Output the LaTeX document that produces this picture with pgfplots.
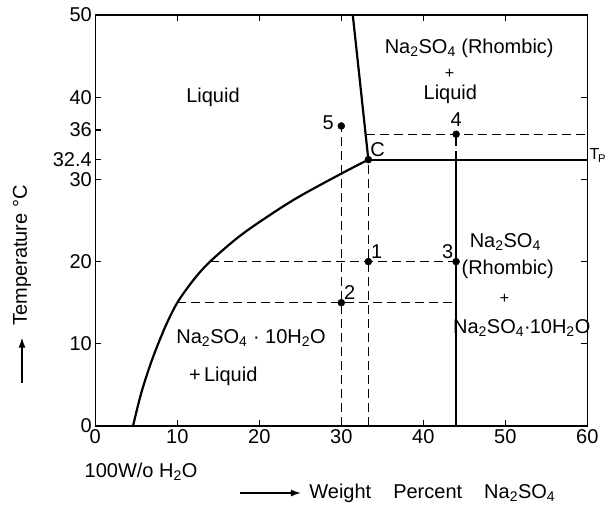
\documentclass[border=0pt]{standalone}
\usepackage{fontspec}
\setmainfont{Liberation Sans}
\usepackage{pgfplots}
\pgfplotsset{compat=1.18}
\usetikzlibrary{arrows.meta}

\newcommand{\nas}{Na\textsubscript{2}SO\textsubscript{4}}

\begin{document}
\begin{tikzpicture}[font=\fontsize{20}{24}\selectfont]
\begin{axis}[
  at={(0,0)}, anchor=south west,
  scale only axis, width=492pt, height=411pt,
  xmin=0, xmax=60, ymin=0, ymax=50,
  xtick={0,10,...,60},
  ytick={0,10,20,30,40,50},
  extra y ticks={32.4,36},
  extra y tick style={ytick pos=left},
  tick align=inside,
  major tick length=6pt,
  axis line style={line width=1.5pt},
  tick style={line width=1.2pt, black},
  tick label style={font=\fontsize{20}{24}\selectfont},
  /pgf/number format/assume math mode=true,
  clip=false,
]
% phase boundaries
\addplot[black, line width=2.2pt, smooth, tension=0.5] coordinates {
  (4.6,0) (5.6,4) (6.9,8) (8.5,12) (10,15) (12,17.8) (14,20)
  (18,23.4) (24,27.4) (30,30.7) (33.3,32.4)};
\addplot[black, line width=2.2pt] coordinates {(33.3,32.4) (31.4,50)};
\addplot[black, line width=2.2pt] coordinates {(33.3,32.4) (60,32.4)};
\addplot[black, line width=2.2pt] coordinates {(44,0) (44,32.4)};

% construction lines
\addplot[black, line width=1.2pt, dash pattern=on 9pt off 5pt] coordinates {(30,0) (30,36.5)};
\addplot[black, line width=1.2pt, dash pattern=on 9pt off 5pt] coordinates {(33.3,0) (33.3,32.4)};
\addplot[black, line width=1.2pt, dash pattern=on 9pt off 5pt] coordinates {(44,32.4) (44,35.5)};
\addplot[black, line width=1.2pt, dash pattern=on 9pt off 5pt] coordinates {(33.0,35.5) (60,35.5)};
\addplot[black, line width=1.2pt, dash pattern=on 9pt off 5pt] coordinates {(14,20) (44,20)};
\addplot[black, line width=1.2pt, dash pattern=on 9pt off 5pt] coordinates {(10,15) (44,15)};

% state points
\addplot[only marks, mark=*, mark size=3.5pt, black] coordinates {
  (33.3,32.4) (33.3,20) (30,15) (44,20) (44,35.5) (30,36.5)};

\node[anchor=east] at (axis cs:29.5,36.9) {5};
\node[anchor=south] at (axis cs:44,36.0) {4};
\node[anchor=south west, inner sep=1pt] at (axis cs:33.4,32.6) {C};
\node[anchor=south west, inner sep=1pt] at (axis cs:33.5,20.2) {1};
\node[anchor=south west, inner sep=1pt] at (axis cs:30.2,15.2) {2};
\node[anchor=south east, inner sep=1pt] at (axis cs:43.8,20.2) {3};

% region labels
\node at (axis cs:14.35,40.0) {Liquid};
\node at (axis cs:45.6,45.9) {\nas\ (Rhombic)};
\node[inner sep=0pt] at (axis cs:43.2,42.8) {\fontsize{16}{18}\selectfont +};
\node[inner sep=0pt] at (axis cs:43.3,40.3) {Liquid};
\node at (axis cs:50.0,22.4) {\nas};
\node at (axis cs:50.3,19.0) {(Rhombic)};
\node at (axis cs:49.9,15.5) {\fontsize{16}{18}\selectfont +};
\node at (axis cs:52.0,11.9) {Na\textsubscript{2}SO\textsubscript{4}\textperiodcentered\kern-0.05em 10H\textsubscript{2}O};
\node at (axis cs:19.0,10.7) {\nas\ \textperiodcentered\ 10H\textsubscript{2}O};
\node at (axis cs:15.6,6.0) {+\,Liquid};
\node[anchor=west, inner sep=0pt] at (axis cs:60.25,32.9) {\fontsize{16}{18}\selectfont T\kern-0.08em\textsubscript{P}};

% axis captions
\node at (rel axis cs:0.093,-0.111) {100W/o H\textsubscript{2}O};
\draw[line width=1.4pt, -{Latex[length=10pt,width=7pt]}] (rel axis cs:0.294,-0.163) -- (rel axis cs:0.418,-0.163);
\node[anchor=west] at (rel axis cs:0.428,-0.163) {Weight\hspace{1.1em}Percent\hspace{1.1em}\nas};
\draw[line width=1.4pt, -{Latex[length=10pt,width=7pt]}] (rel axis cs:-0.149,0.105) -- (rel axis cs:-0.149,0.215);
\node[rotate=90] at (rel axis cs:-0.149,0.415) {Temperature \textdegree C};
\end{axis}
\pgfresetboundingbox
\useasboundingbox (-95.3pt,-79pt) rectangle (509.7pt,426pt);
\end{tikzpicture}
\end{document}
